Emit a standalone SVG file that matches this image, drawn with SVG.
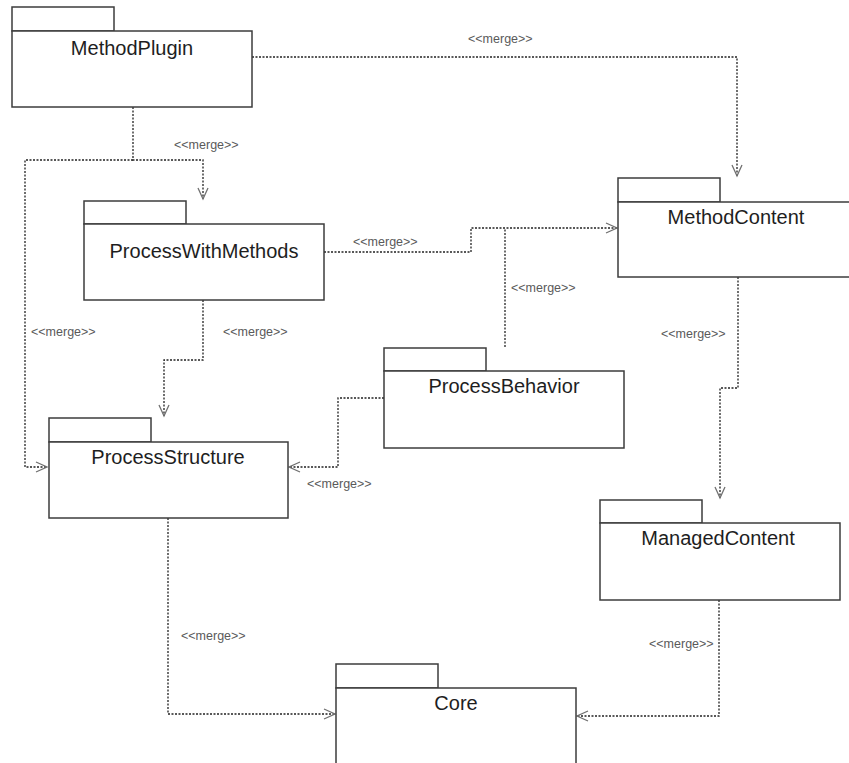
<svg xmlns="http://www.w3.org/2000/svg" width="849" height="763" viewBox="0 0 849 763">
  <style>
    .pkg rect { fill: #ffffff; stroke: #3c3c3c; stroke-width: 1.5; }
    .name { font-family: "Liberation Sans", Arial, sans-serif; font-size: 20px; fill: #1e1e1e; text-anchor: middle; }
    .dep { fill: none; stroke: #222222; stroke-width: 1.3; stroke-dasharray: 2 1.5; }
    .arrow { marker-end: url(#open); }
    .lbl { font-family: "Liberation Sans", Arial, sans-serif; font-size: 12.5px; fill: #5a5a5a; }
  </style>
  <defs>
    <marker id="open" markerUnits="userSpaceOnUse" markerWidth="14" markerHeight="14" viewBox="-12 -7 14 14" refX="0" refY="0" orient="auto">
      <path d="M-11,-5 L0,0 L-11,5" fill="none" stroke="#707070" stroke-width="1.3"/>
    </marker>
  </defs>
  <rect width="849" height="763" fill="#ffffff"/>

  <!-- merge dependencies -->
  <g id="connectors">
    <path class="dep arrow" d="M252,57 H737 V176"/>
    <path class="dep arrow" d="M133,107 V160 H203 V199"/>
    <path class="dep arrow" d="M133,160 H25 V467 H47"/>
    <path class="dep arrow" d="M203,300 V360 H164 V416"/>
    <path class="dep arrow" d="M324,252 H471 V228 H617"/>
    <path class="dep" d="M505,347 V228"/>
    <path class="dep arrow" d="M384,398 H338 V467 H289"/>
    <path class="dep arrow" d="M738,277 V388 H720 V498"/>
    <path class="dep arrow" d="M719,600 V716 H577"/>
    <path class="dep arrow" d="M168,518 V714 H335"/>
    <text class="lbl" x="468" y="43">&lt;&lt;merge&gt;&gt;</text>
    <text class="lbl" x="174" y="149">&lt;&lt;merge&gt;&gt;</text>
    <text class="lbl" x="31" y="336">&lt;&lt;merge&gt;&gt;</text>
    <text class="lbl" x="223" y="336">&lt;&lt;merge&gt;&gt;</text>
    <text class="lbl" x="353" y="246">&lt;&lt;merge&gt;&gt;</text>
    <text class="lbl" x="511" y="292">&lt;&lt;merge&gt;&gt;</text>
    <text class="lbl" x="307" y="488">&lt;&lt;merge&gt;&gt;</text>
    <text class="lbl" x="661" y="338">&lt;&lt;merge&gt;&gt;</text>
    <text class="lbl" x="649" y="648">&lt;&lt;merge&gt;&gt;</text>
    <text class="lbl" x="181" y="640">&lt;&lt;merge&gt;&gt;</text>
  </g>

  <!-- packages: tab + body -->
  <g id="MethodPlugin" class="pkg">
    <rect x="12" y="7" width="102" height="24"/>
    <rect x="12" y="31" width="240" height="76"/>
    <text class="name" x="132" y="55">MethodPlugin</text>
  </g>
  <g id="ProcessWithMethods" class="pkg">
    <rect x="84" y="201" width="102" height="23"/>
    <rect x="84" y="224" width="240" height="76"/>
    <text class="name" x="204" y="258">ProcessWithMethods</text>
  </g>
  <g id="MethodContent" class="pkg">
    <rect x="618" y="178" width="102" height="24"/>
    <rect x="618" y="202" width="240" height="75"/>
    <text class="name" x="736" y="224">MethodContent</text>
  </g>
  <g id="ProcessBehavior" class="pkg">
    <rect x="384" y="348" width="102" height="23"/>
    <rect x="384" y="371" width="240" height="77"/>
    <text class="name" x="504" y="393">ProcessBehavior</text>
  </g>
  <g id="ProcessStructure" class="pkg">
    <rect x="49" y="418" width="102" height="24"/>
    <rect x="49" y="442" width="239" height="76"/>
    <text class="name" x="168" y="464">ProcessStructure</text>
  </g>
  <g id="ManagedContent" class="pkg">
    <rect x="600" y="500" width="102" height="23"/>
    <rect x="600" y="523" width="240" height="77"/>
    <text class="name" x="718" y="545">ManagedContent</text>
  </g>
  <g id="Core" class="pkg">
    <rect x="336" y="664" width="102" height="24"/>
    <rect x="336" y="688" width="240" height="90"/>
    <text class="name" x="456" y="710">Core</text>
  </g>
</svg>
